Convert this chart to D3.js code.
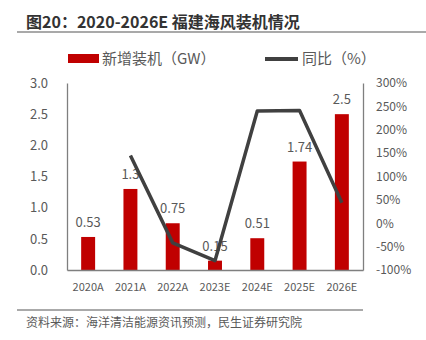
<!DOCTYPE html>
<html>
<head>
<meta charset="utf-8">
<script src="https://cdn.jsdelivr.net/npm/d3@7"></script>
<style>
  body { margin: 0; background: #fff; }
  svg { display: block; font-family: "Noto Sans CJK SC", "Noto Sans", sans-serif; }
</style>
</head>
<body>
<svg id="chart" width="426" height="340"></svg>
<script>
var years = ['2020A', '2021A', '2022A', '2023E', '2024E', '2025E', '2026E'];
var capacity = [0.53, 1.3, 0.75, 0.15, 0.51, 1.74, 2.5];
// yoy growth in %, first year has no value
var growth = [null, 145, -42, -80, 240, 241, 44];
var leftTicks = [0, 0.5, 1, 1.5, 2, 2.5, 3];
var rightTicks = [-100, -50, 0, 50, 100, 150, 200, 250, 300];

var svg = d3.select('#chart');
var plotLeft = 67, plotRight = 363, plotTop = 83, plotBottom = 270;
var grey = '#595959';

var x = d3.scaleBand().domain(years).range([plotLeft, plotRight]).paddingInner(0.67).paddingOuter(0.335);
var yL = d3.scaleLinear().domain([0, 3]).range([plotBottom, plotTop]);
var yR = d3.scaleLinear().domain([-100, 300]).range([plotBottom, plotTop]);

// title + rule
svg.append('text')
  .attr('x', 26).attr('y', 28)
  .attr('font-size', 16).attr('font-weight', 'bold').attr('fill', '#333')
  .text('图20：2020-2026E 福建海风装机情况');
svg.append('line')
  .attr('x1', 17).attr('x2', 426).attr('y1', 32).attr('y2', 32)
  .attr('stroke', '#555').attr('stroke-width', 1.2);

// legend
svg.append('rect').attr('x', 68).attr('y', 54).attr('width', 31).attr('height', 9).attr('fill', '#C00000');
svg.append('text').attr('x', 102).attr('y', 64).attr('font-size', 15).attr('fill', grey).text('新增装机（GW）');
svg.append('line').attr('x1', 265).attr('x2', 298).attr('y1', 59).attr('y2', 59)
  .attr('stroke', '#404040').attr('stroke-width', 4);
svg.append('text').attr('x', 302).attr('y', 64).attr('font-size', 15).attr('fill', grey).text('同比（%）');

// bars
svg.selectAll('rect.bar').data(capacity).enter().append('rect')
  .attr('class', 'bar')
  .attr('x', function(d, i) { return x(years[i]); })
  .attr('y', function(d) { return yL(d); })
  .attr('width', x.bandwidth())
  .attr('height', function(d) { return plotBottom - yL(d); })
  .attr('fill', '#C00000');

svg.selectAll('text.val').data(capacity).enter().append('text')
  .attr('class', 'val')
  .attr('x', function(d, i) { return x(years[i]) + x.bandwidth() / 2; })
  .attr('y', function(d) { return yL(d) - 10; })
  .attr('text-anchor', 'middle')
  .attr('font-size', 13).attr('fill', grey)
  .text(function(d) { return d; });

// axes
var axisL = d3.axisLeft(yL).tickValues(leftTicks).tickSize(0).tickPadding(19).tickFormat(d3.format('.1f'));
var gL = svg.append('g').attr('transform', 'translate(' + plotLeft + ',0)').call(axisL);
var axisR = d3.axisRight(yR).tickValues(rightTicks).tickSize(0).tickPadding(13).tickFormat(function(d) { return d + '%'; });
var gR = svg.append('g').attr('transform', 'translate(' + plotRight + ',0)').call(axisR);
var axisB = d3.axisBottom(x).tickSize(0).tickPadding(13);
var gB = svg.append('g').attr('transform', 'translate(0,' + plotBottom + ')').call(axisB);

[gL, gR, gB].forEach(function(g) {
  g.select('.domain').attr('stroke', '#7f7f7f').attr('stroke-width', 1.3);
  g.selectAll('text').attr('fill', grey).attr('font-family', '"Noto Sans CJK SC", sans-serif');
});
gL.selectAll('text').attr('font-size', 13);
gR.selectAll('text').attr('font-size', 12);
gB.selectAll('text').attr('font-size', 11);

// growth line on top
var line = d3.line()
  .defined(function(d) { return d !== null; })
  .x(function(d, i) { return x(years[i]) + x.bandwidth() / 2; })
  .y(function(d) { return yR(d); });
svg.append('path').datum(growth)
  .attr('d', line)
  .attr('fill', 'none')
  .attr('stroke', '#404040')
  .attr('stroke-width', 3.5)
  .attr('stroke-linejoin', 'round');

// source note
svg.append('line')
  .attr('x1', 17).attr('x2', 363).attr('y1', 310).attr('y2', 310)
  .attr('stroke', '#555').attr('stroke-width', 1);
svg.append('text')
  .attr('x', 26).attr('y', 327)
  .attr('font-size', 12).attr('fill', grey)
  .text('资料来源：海洋清洁能源资讯预测，民生证券研究院');
</script>
</body>
</html>
